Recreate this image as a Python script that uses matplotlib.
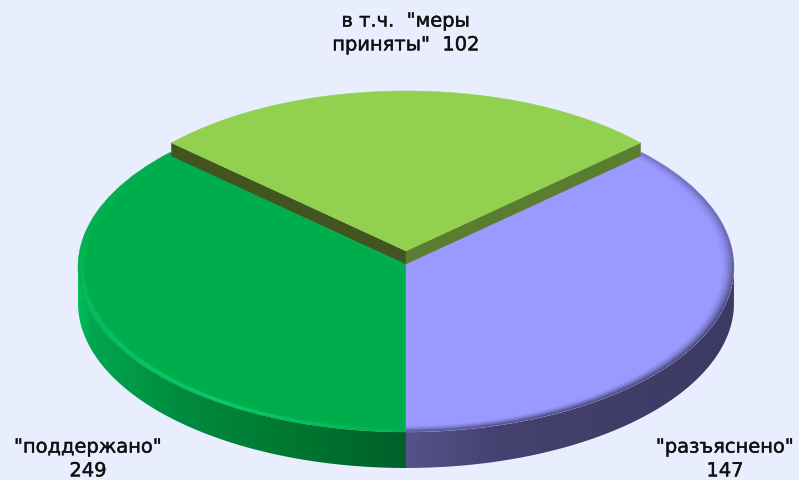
import numpy as np
import matplotlib
matplotlib.use("Agg")
import matplotlib.pyplot as plt
from matplotlib.patches import Wedge, Polygon, PathPatch
from matplotlib.path import Path
from matplotlib.collections import LineCollection
from matplotlib.colors import LinearSegmentedColormap, to_rgba
import matplotlib.patheffects as pe

# ---- data ----
labels = ['"поддержано"\n249', '"разъяснено"\n147', 'в т.ч.  "меры\nприняты"  102']
values = [249, 147, 102]
drawn_sweeps = [134, 134, 92]      # degrees each slice covers in the picture

# ---- styling ----
W, H = 799, 481
CX, CY, RX, RY = 406, 268, 328, 165
BG = '#E8EEFE'
TOP = ['#00AD4D', '#9999FF', '#92D050']
DEPTH = 36 / RY
LIFT = 16 / RY
WALL = 13 / RY
R_RAISED = 0.97
SPREAD = 3
WALL_L, WALL_R = '#42541F', '#5A7D30'

fig = plt.figure(figsize=(W / 100, H / 100), dpi=100, facecolor=BG)
ax = fig.add_axes([0, 0, 1, 1])
ax.set_facecolor(BG)
xlim = (-CX / RX, (W - CX) / RX)
ylim = ((CY - H) / RY, CY / RY)


def ang_pts(t1, t2, r=1.0, n=200, dy=0.0):
    t = np.radians(np.linspace(t1, t2, n))
    return np.c_[r * np.cos(t), dy + r * np.sin(t)]


half = drawn_sweeps[2] / 2
a_green = (90 + half, 90 + half + drawn_sweeps[0])
a_purple = (a_green[1], a_green[1] + drawn_sweeps[1])
a_light = (90 - half - SPREAD / 2, 90 + half + SPREAD / 2)


def rim(t1, t2, stops, x0, x1):
    top = ang_pts(t1, t2)
    bottom = ang_pts(t2, t1, dy=-DEPTH)
    patch = PathPatch(Path(np.r_[top, bottom, top[:1]]), fc='none', ec='none',
                      transform=ax.transData)
    ax.add_patch(patch)
    cmap = LinearSegmentedColormap.from_list('r', stops)
    grad = np.linspace(0, 1, 256)[None, :]
    im = ax.imshow(grad, extent=(x0, x1, -1.5, 1.0), cmap=cmap, aspect='auto',
                   origin='lower', zorder=1, interpolation='bilinear')
    im.set_clip_path(patch)


rim(180, 270, [(0, '#00BE5A'), (0.04, '#00A750'), (0.3, '#008C40'),
               (0.7, '#00742F'), (1, '#005F2A')], -1.0, 0.0)
rim(270, 360, [(0, '#56528A'), (0.3, '#44416F'), (1, '#3C3A62')], 0.0, 1.0)

wedges = []
for (t1, t2), col in zip((a_green, a_purple), TOP[:2]):
    w = Wedge((0, 0), 1.0, t1, t2, fc=col, ec=col, lw=0.3, zorder=2)
    ax.add_patch(w)
    wedges.append(w)

# main faces reach up to the foot of the raised slice's walls
foot = np.array([0.0, LIFT - WALL])
for ang, col in ((a_green[0], TOP[0]), (a_purple[1], TOP[1])):
    corner = np.array([np.cos(np.radians(ang)), np.sin(np.radians(ang))])
    ax.add_patch(Polygon([foot, corner, (0, 0)], closed=True, fc=col, ec=col,
                         lw=0.3, zorder=2))


def bevel(wedge, t1, t2, radii, alphas, color, strength):
    t = np.linspace(t1, t2, 300)
    s = strength(t)
    for r, a in zip(radii, alphas):
        p = np.c_[r * np.cos(np.radians(t)), r * np.sin(np.radians(t))]
        seg = np.stack([p[:-1], p[1:]], axis=1)
        cols = np.tile(to_rgba(color), (len(seg), 1))
        cols[:, 3] = np.clip(a * s[:-1], 0, 1)
        lc = LineCollection(seg, colors=cols, linewidths=1.5, zorder=3,
                            capstyle='butt')
        ax.add_collection(lc)
        lc.set_clip_path(wedge)


bevel(wedges[0], a_green[0], a_green[1],
      [0.995, 0.989, 0.983], [0.3, 0.6, 0.3], '#10E080',
      lambda t: np.interp(t, [135, 165, 190, 235, 255, 270], [0.05, 0.2, 0.6, 0.9, 0.45, 0.05]))
bevel(wedges[1], a_purple[0], a_purple[1],
      [0.997, 0.991, 0.985, 0.979, 0.973, 0.967],
      [0.85, 0.6, 0.4, 0.24, 0.12, 0.05], '#3C3A62',
      lambda t: np.interp(t, [270, 300, 345, 370, 405], [0.6, 0.75, 1.0, 0.6, 0.3]))

tip = np.array([0.0, LIFT])
for ang, col in ((a_light[1], WALL_L), (a_light[0], WALL_R)):
    corner = tip + R_RAISED * np.array([np.cos(np.radians(ang)), np.sin(np.radians(ang))])
    ax.add_patch(Polygon([tip, corner, corner - [0, WALL], tip - [0, WALL]],
                         closed=True, fc=col, ec=col, lw=0.3, zorder=4))
ax.add_patch(Wedge(tuple(tip), R_RAISED, a_light[0], a_light[1],
                   fc=TOP[2], ec=TOP[2], lw=0.3, zorder=5))

ax.set_xlim(*xlim)
ax.set_ylim(*ylim)
ax.axis('off')

fp = dict(family='DejaVu Sans', fontsize=14, color='#111111', ha='center',
          va='center', linespacing=1.32, zorder=6,
          path_effects=[pe.withStroke(linewidth=0.3, foreground='#111111')])
pos_px = [(88, 460), (725, 460), (406, 34)]
for lab, (px, py) in zip(labels, pos_px):
    ax.text((px - CX) / RX, (CY - py) / RY, lab, **fp)

fig.savefig('out.png', dpi=100, facecolor=BG)
